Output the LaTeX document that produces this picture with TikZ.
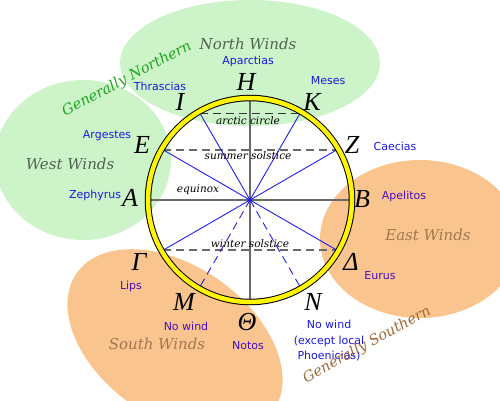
\documentclass[tikz,border=0pt]{standalone}
\usepackage{fontspec}
\setmainfont{DejaVu Sans}
\newfontfamily\lettfont{Liberation Serif}
\newfontfamily\serifit{DejaVu Serif}
\definecolor{ngreen}{RGB}{204,244,200}
\definecolor{sorange}{RGB}{250,196,142}
\definecolor{lblue}{RGB}{25,25,225}
\definecolor{lpurple}{RGB}{70,15,190}
\definecolor{gtitle}{RGB}{80,100,80}
\definecolor{otitle}{RGB}{160,120,80}
\definecolor{gnorth}{RGB}{30,165,30}
\definecolor{gsouth}{RGB}{160,105,55}
\definecolor{axgray}{RGB}{105,105,105}
\definecolor{rayblue}{RGB}{30,30,240}
\definecolor{ringyellow}{RGB}{255,245,0}
\begin{document}
\begin{tikzpicture}[x=1pt,y=-1pt,
  letter/.style={font=\lettfont\itshape\fontsize{26}{26}\selectfont, inner sep=0pt},
  wname/.style={font=\fontsize{11}{15.5}\selectfont, text=lblue, inner sep=0pt, align=center},
  wnameo/.style={wname, text=lpurple},
  region/.style={font=\serifit\itshape\fontsize{15}{15}\selectfont, inner sep=0pt},
  generally/.style={font=\serifit\itshape\fontsize{14.5}{14.5}\selectfont, inner sep=0pt},
  circlabel/.style={font=\serifit\itshape\fontsize{10.5}{10.5}\selectfont, inner sep=0pt},
  axisline/.style={draw=axgray, line width=1.5pt},
  latline/.style={draw=axgray, line width=1.5pt, dash pattern=on 8pt off 5pt},
  ray/.style={draw=rayblue, line width=0.9pt},
  raydash/.style={ray, dash pattern=on 8pt off 5pt}]
\useasboundingbox (0,0) rectangle (500,400);
\clip (0,0) rectangle (500,400);
% wind regions
\fill[ngreen] (250,63) ellipse [x radius=130, y radius=63];
\fill[ngreen] (83,160) ellipse [x radius=88, y radius=80];
\fill[sorange] (420,239) ellipse [x radius=100, y radius=79];
\fill[sorange, rotate around={-35:(175,342)}] (175,342) ellipse [x radius=120, y radius=76];
% points on the circle
\coordinate (O) at (250,200);
\coordinate (pH) at (250,100);
\coordinate (pT) at (250,300);
\coordinate (pA) at (150,200);
\coordinate (pB) at (350,200);
\coordinate (pI) at (200,113.4);
\coordinate (pK) at (300,113.4);
\coordinate (pE) at (163.4,150);
\coordinate (pZ) at (336.6,150);
\coordinate (pG) at (163.4,250);
\coordinate (pD) at (336.6,250);
\coordinate (pM) at (200,286.6);
\coordinate (pN) at (300,286.6);
% axes and latitudes
\draw[axisline] (pA) -- (pB);
\draw[axisline] (pH) -- (pT);
\draw[latline, draw=black!80] (pI) -- (pK);
\draw[latline] (pE) -- (pZ);
\draw[latline] (pG) -- (pD);
% rays
\foreach \p in {pI,pK,pE,pZ,pG,pD} \draw[ray] (O) -- (\p);
\draw[raydash] (O) -- (pM);
\draw[raydash] (O) -- (pN);
\fill[rayblue] (O) circle (2);
% ring
\draw[black, line width=6.5pt] (O) circle (102);
\draw[ringyellow, line width=4.5pt] (O) circle (102);
% circle labels
\node[circlabel] (lac) at (248,121) {arctic circle};
\node[circlabel] (lss) at (248,156) {summer solstice};
\node[circlabel] (leq) at (198,190) {equinox};
\node[circlabel] (lws) at (250,244) {winter solstice};
% letters
\node[letter] (H) at (246,82) {H};
\node[letter] (I) at (180,102) {I};
\node[letter] (K) at (312,102) {K};
\node[letter] (E) at (142,145) {E};
\node[letter] (A) at (130,198) {A};
\node[letter] (Z) at (352,145) {Z};
\node[letter] (B) at (362,199) {B};
\node[letter] (D) at (351,262) {Δ};
\node[letter] (G) at (139,262) {Γ};
\node[letter] (M) at (184,302) {M};
\node[letter] (T) at (247,322) {Θ};
\node[letter] (N) at (313,302) {N};
% wind names
\node[wname] (aparctias) at (248,61) {Aparctias};
\node[wname] (thrascias) at (160,86) {Thrascias};
\node[wname] (meses) at (328,81) {Meses};
\node[wname] (argestes) at (107,136) {Argestes};
\node[wname] (zephyrus) at (95,195) {Zephyrus};
\node[wname] (caecias) at (395,146) {Caecias};
\node[wnameo] (apelitos) at (404,196) {Apelitos};
\node[wnameo] (eurus) at (380,276) {Eurus};
\node[wnameo] (lips) at (131,286) {Lips};
\node[wnameo] (nowindm) at (186,326) {No wind};
\node[wnameo] (notos) at (248,346) {Notos};
\node[wname] (nowindn) at (329,341) {No wind\\(except local\\Phoenicias)};
% regions
\node[region, text=gtitle] (north) at (248,44) {North Winds};
\node[region, text=gtitle] (west) at (70,164) {West Winds};
\node[region, text=otitle] (east) at (428,235) {East Winds};
\node[region, text=otitle] (south) at (157,344) {South Winds};
\node[generally, text=gnorth, rotate=28] (gn) at (127,79) {Generally Northern};
\node[generally, text=gsouth, rotate=29] (gs) at (367,345) {Generally Southern};
\end{tikzpicture}
\end{document}
